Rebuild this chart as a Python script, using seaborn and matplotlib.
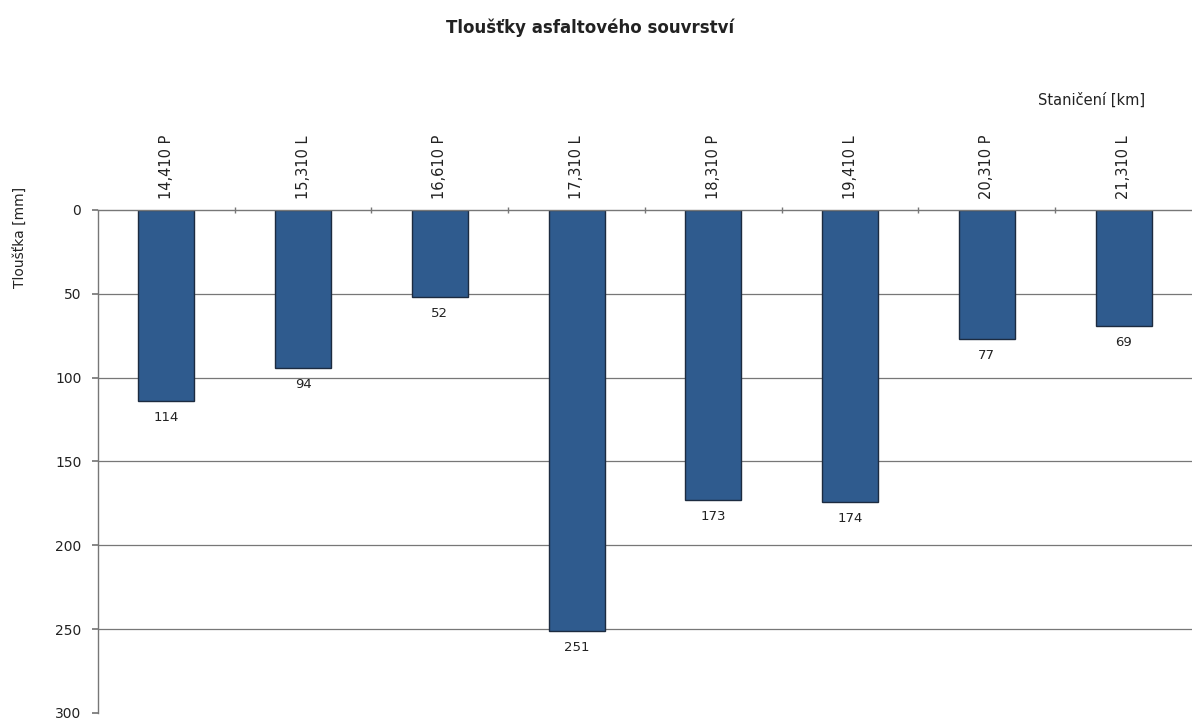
import matplotlib
matplotlib.use("Agg")
import matplotlib.pyplot as plt
import seaborn as sns
import pandas as pd
import numpy as np

stations = ["14,410 P", "15,310 L", "16,610 P", "17,310 L", "18,310 P", "19,410 L", "20,310 P", "21,310 L"]
thickness = [114, 94, 52, 251, 173, 174, 77, 69]
y_ticks = [0, 50, 100, 150, 200, 250, 300]

sns.set_theme(style="white")
plt.rcParams['font.family'] = ['DejaVu Sans']

df = pd.DataFrame({"station": stations, "thickness": thickness})

fig = plt.figure(figsize=(11.92, 7.24), dpi=100)
ax = fig.add_axes([0.0822, 0.0152, 0.9178, 0.6948])

sns.barplot(data=df, x="station", y="thickness", ax=ax, color="#2F5B8E",
            width=0.41, edgecolor="#1c2b40", linewidth=1.0, saturation=1)

ax.set_ylim(300, 0)
ax.set_xlim(-0.5, len(stations) - 0.5)
ax.set_yticks(y_ticks)
ax.set_yticklabels([str(v) for v in y_ticks], fontsize=10, color="#222222")

for v in y_ticks[1:-1]:
    ax.axhline(v, color="#777777", linewidth=0.9, zorder=0)

ax.xaxis.tick_top()
ax.xaxis.set_label_position("top")
ax.set_xticks(range(len(stations)))
ax.set_xticklabels(stations, rotation=90, fontsize=10.5, color="#222222")
ax.set_xticks(np.arange(0.5, len(stations) - 0.5, 1.0), minor=True)
ax.tick_params(axis="x", which="major", length=0, pad=8)
ax.tick_params(axis="x", which="minor", length=4, direction="inout", color="#777777", top=True, bottom=False)
ax.tick_params(axis="y", which="major", length=4, direction="out", color="#777777", left=True, pad=8)
ax.set_xlabel("")
ax.set_ylabel("")

for s in ["right", "bottom"]:
    ax.spines[s].set_visible(False)
for s in ["top", "left"]:
    ax.spines[s].set_color("#777777")
    ax.spines[s].set_linewidth(1.0)

for i, v in enumerate(thickness):
    ax.text(i, v + 6, str(v), ha="center", va="top", fontsize=9.5, color="#222222")

fig.text(0.495, 0.962, "Tloušťky asfaltového souvrství", ha="center", va="center",
         fontsize=12, fontweight="bold", color="#222222")
fig.text(0.961, 0.862, "Staničení [km]", ha="right", va="center", fontsize=10.5, color="#222222")
fig.text(0.017, 0.672, "Tloušťka [mm]", ha="center", va="center", rotation=90,
         fontsize=10, color="#222222")

fig.savefig("out.png", dpi=100, facecolor="white")
